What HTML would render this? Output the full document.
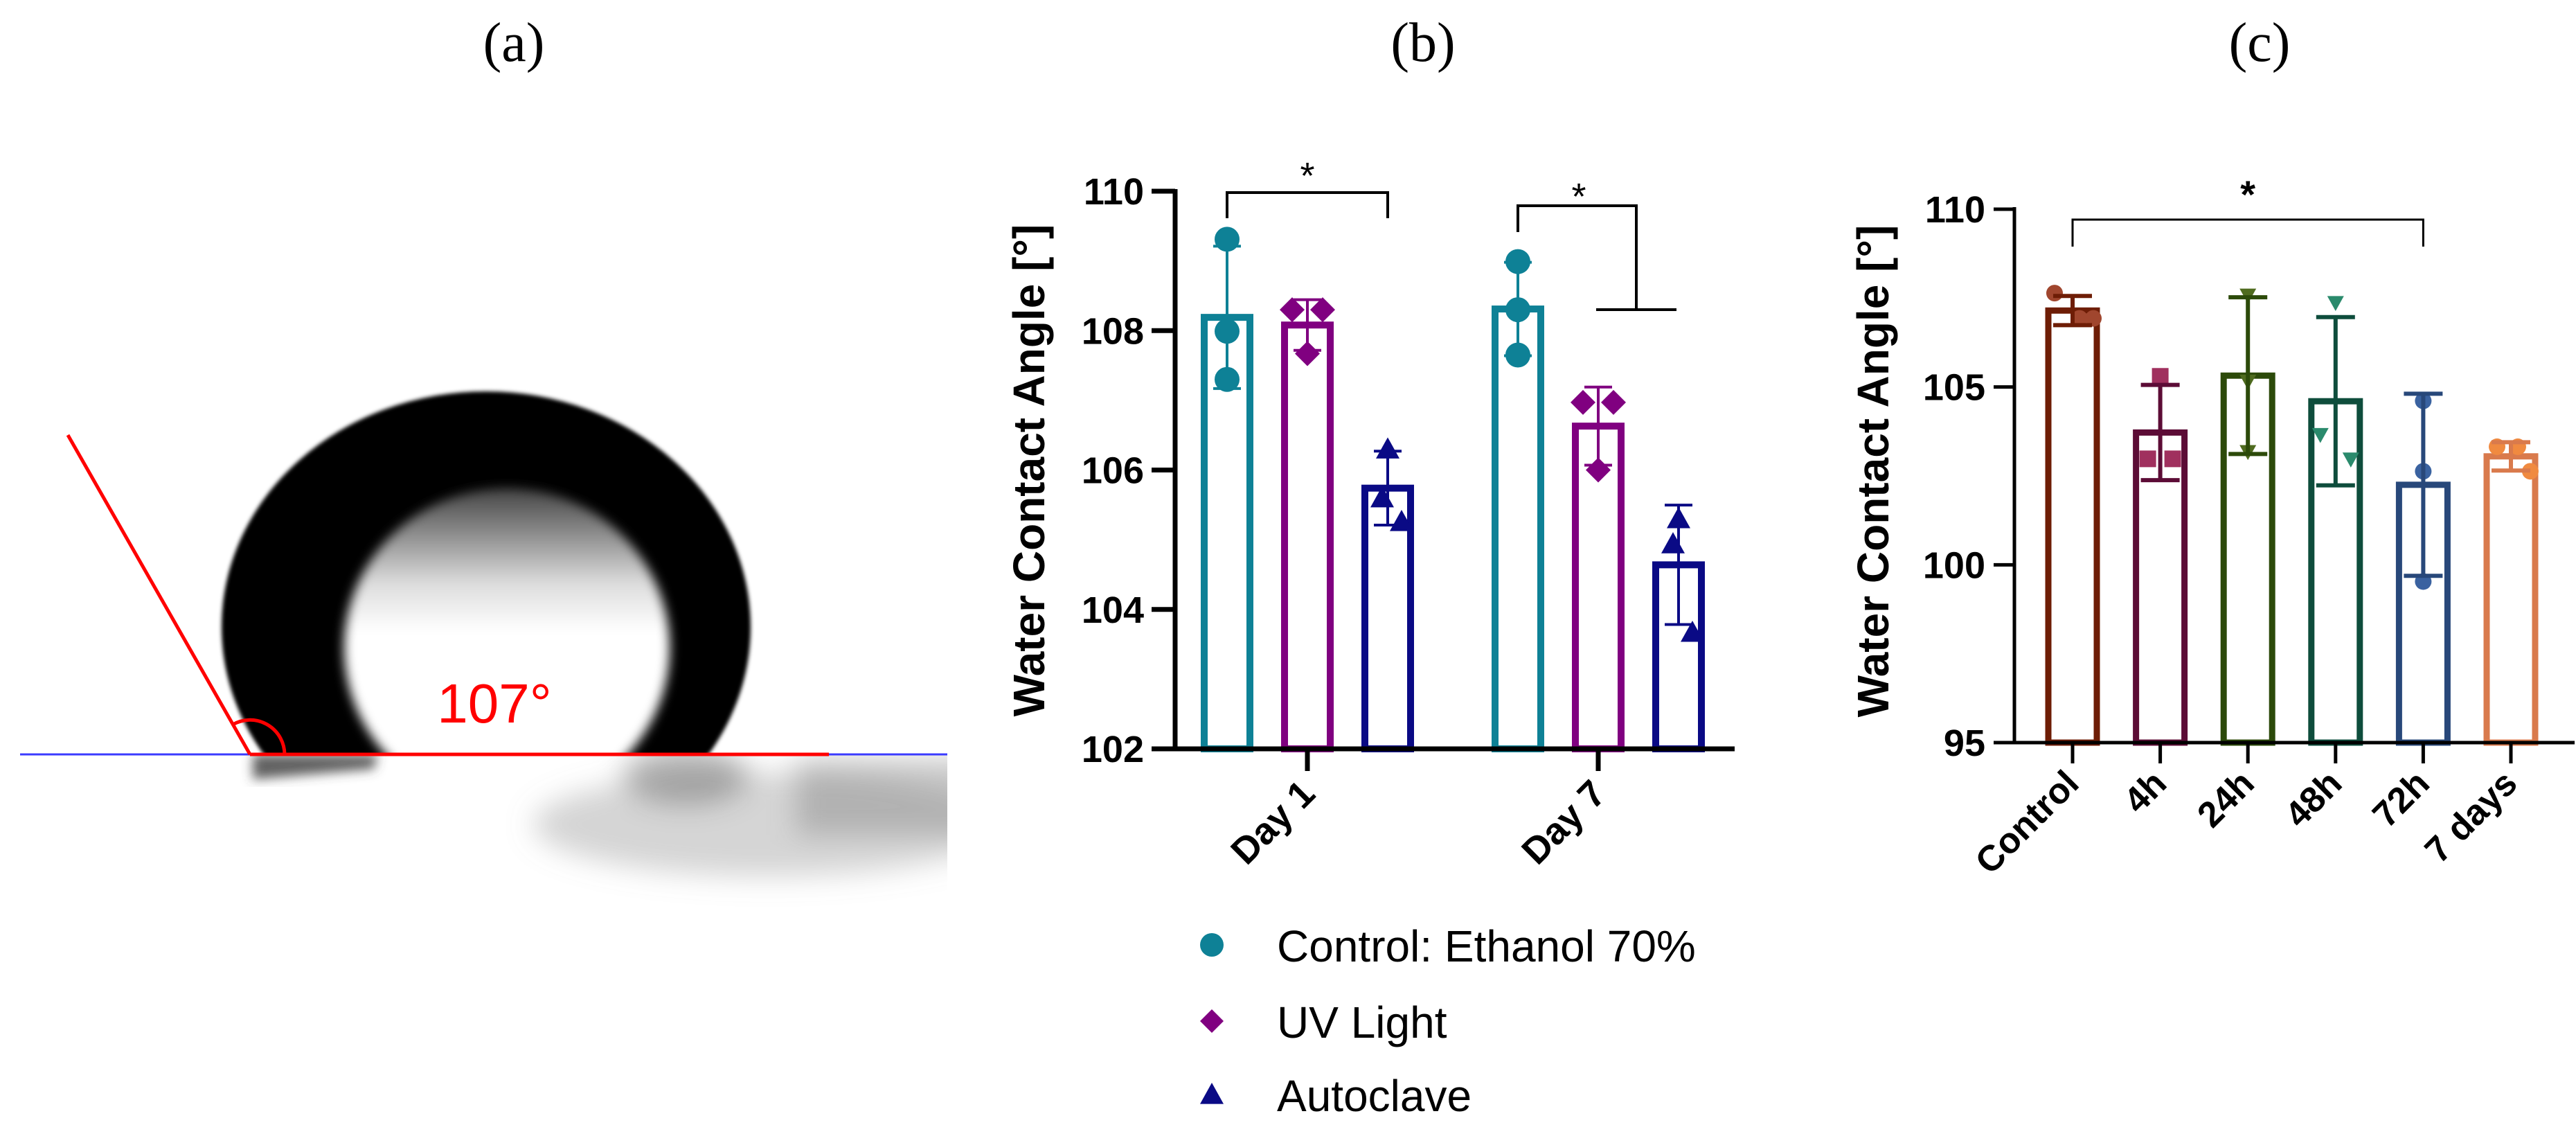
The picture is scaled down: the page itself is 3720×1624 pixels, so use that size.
<!DOCTYPE html>
<html><head><meta charset="utf-8"><style>
html,body{margin:0;padding:0;background:#fff;}
svg{display:block;}
text{font-family:"Liberation Sans",Arial,sans-serif;}
</style></head><body>
<svg id="fig" width="3720" height="1624" viewBox="0 0 3720 1624" xmlns="http://www.w3.org/2000/svg">
<defs>
<filter id="blur3" x="-20%" y="-20%" width="140%" height="140%"><feGaussianBlur stdDeviation="3"/></filter>
<filter id="blur20" x="-30%" y="-50%" width="160%" height="200%"><feGaussianBlur stdDeviation="20"/></filter>
<filter id="blur8" x="-30%" y="-30%" width="160%" height="160%"><feGaussianBlur stdDeviation="8"/></filter>
<clipPath id="aboveBase"><rect x="0" y="0" width="1400" height="1089"/></clipPath>
<clipPath id="imgArea"><rect x="0" y="1089" width="1368" height="300"/></clipPath>
<linearGradient id="holeGrad" x1="0" y1="0" x2="0" y2="1">
<stop offset="0" stop-color="#444"/><stop offset="0.3" stop-color="#ddd"/><stop offset="0.45" stop-color="#fff"/><stop offset="1" stop-color="#fff"/></linearGradient>
</defs>

<!-- Panel a -->
<g>
<text x="742" y="88" font-size="80" text-anchor="middle" style="font-family:'Liberation Serif',serif">(a)</text>
<g>
<g clip-path="url(#imgArea)">
<g filter="url(#blur20)">
<ellipse cx="1110" cy="1190" rx="340" ry="75" fill="#888" opacity="0.35"/>
<ellipse cx="990" cy="1120" rx="90" ry="40" fill="#666" opacity="0.5"/>
<rect x="1150" y="1095" width="260" height="110" fill="#888" opacity="0.45"/>
</g>
<g filter="url(#blur8)"><path d="M365 1089 H545 L540 1110 L365 1125 Z" fill="#444" opacity="0.85"/></g>
</g>
<g clip-path="url(#aboveBase)">
<ellipse cx="702" cy="905" rx="382" ry="340" fill="#050505" filter="url(#blur3)"/>
<ellipse cx="732" cy="935" rx="235" ry="230" fill="url(#holeGrad)" filter="url(#blur8)"/>
</g>
</g>
<line x1="29" y1="1089" x2="1368" y2="1089" stroke="#3b3bff" stroke-width="3"/>
<line x1="361" y1="1089" x2="1197" y2="1089" stroke="#ff0000" stroke-width="5"/>
<line x1="361" y1="1089" x2="98" y2="628" stroke="#ff0000" stroke-width="5"/>
<path d="M411 1089 A50 50 0 0 0 336 1046" fill="none" stroke="#ff0000" stroke-width="5"/>
<text x="714" y="1043" font-size="80" fill="#ff0000" text-anchor="middle">107°</text>
</g>

<g id="panelB"></g>
<g id="panelC"></g>
</svg>

<script>
// ---------- Panel b data ----------
const bGroups = ["Day 1", "Day 7"];
const bSeries = ["Control: Ethanol 70%", "UV Light", "Autoclave"];
const bMeans = [[108.19, 108.08, 105.74], [108.31, 106.63, 104.64]];
const bPoints = [
  [[109.31, 107.99, 107.30], [108.30, 108.30, 107.67], [106.30, 105.60, 105.26]],
  [[108.99, 108.30, 107.65], [106.97, 106.97, 106.00], [105.30, 104.94, 103.67]]
];
const bTicks = [102, 104, 106, 108, 110];

// ---------- Panel c data ----------
const cCategories = ["Control", "4h", "24h", "48h", "72h", "7 days"];
const cMeans = [107.15, 103.72, 105.32, 104.60, 102.25, 103.05];
const cPoints = [
  [107.64, 106.93, 106.93],
  [105.30, 102.98, 102.98],
  [107.58, 105.16, 103.18],
  [107.37, 103.66, 102.97],
  [104.61, 102.63, 99.53],
  [103.32, 103.32, 102.63]
];
const cTicks = [95, 100, 105, 110];

const NS = "http://www.w3.org/2000/svg";
function mk(parent, tag, attrs, txt) {
  const e = document.createElementNS(NS, tag);
  for (const k in attrs) e.setAttribute(k, attrs[k]);
  if (txt !== undefined) e.textContent = txt;
  parent.appendChild(e);
  return e;
}
function sd(a) {
  const m = a.reduce((s, v) => s + v, 0) / a.length;
  return Math.sqrt(a.reduce((s, v) => s + (v - m) * (v - m), 0) / (a.length - 1));
}
function marker(g, shape, x, y, s, color) {
  let e;
  if (shape === "circle") e = mk(g, "circle", {cx: x, cy: y, r: s, fill: color});
  else if (shape === "diamond") e = mk(g, "path", {d: `M${x} ${y - s}L${x + s} ${y}L${x} ${y + s}L${x - s} ${y}Z`, fill: color});
  else if (shape === "square") e = mk(g, "rect", {x: x - s, y: y - s, width: 2 * s, height: 2 * s, fill: color});
  else if (shape === "triangle") e = mk(g, "path", {d: `M${x} ${y - s}L${x + s} ${y + s * 0.8}L${x - s} ${y + s * 0.8}Z`, fill: color});
  else if (shape === "tridown") e = mk(g, "path", {d: `M${x} ${y + s}L${x + s} ${y - s * 0.8}L${x - s} ${y - s * 0.8}Z`, fill: color});
  return e;
}

// ---------- Draw panel b ----------
(function () {
  const g = document.getElementById("panelB");
  const x0 = 1697, x1 = 2505, yTop = 276, yBot = 1081, vMin = 102, vMax = 110;
  const y = v => yBot - (v - vMin) / (vMax - vMin) * (yBot - yTop);
  const groupX = i => 1888 + i * 420;
  const barX = (i, j) => groupX(i) + (j - 1) * 116;
  const colors = ["#0e8196", "#800080", "#0a0a85"];
  const shapes = ["circle", "diamond", "triangle"];
  const msize = [18, 18, 17];
  const jitter = [[0, 0, 0], [-22, 22, 0], [0, -8, 20]];
  const barW = 66;

  let t = mk(g, "text", {x: 2055, y: 88, "font-size": 80, "text-anchor": "middle", style: "font-family:'Liberation Serif',serif"}, "(b)");
  
  

  bMeans.forEach((row, i) => row.forEach((m, j) => {
    const cx = barX(i, j);
    const r = mk(g, "rect", {x: cx - barW / 2, y: y(m), width: barW, height: yBot - y(m), fill: "none", stroke: colors[j], "stroke-width": 10});
    
    
    const s = sd(bPoints[i][j]);
    const eb = mk(g, "path", {d: `M${cx} ${y(m - s)}V${y(m + s)}M${cx - 20} ${y(m + s)}H${cx + 20}M${cx - 20} ${y(m - s)}H${cx + 20}`, stroke: colors[j], "stroke-width": 4, fill: "none"});
    
    
    bPoints[i][j].forEach((v, k) => {
      const p = marker(g, shapes[j], cx + jitter[j][k], y(v), msize[j], colors[j]);
      
      
    });
  }));

  const ax = mk(g, "path", {d: `M${x0} ${yTop - 3}V${yBot}H${x1}`, stroke: "#000", "stroke-width": 7, fill: "none"});
  
  
  bTicks.forEach(v => {
    const tk = mk(g, "line", {x1: x0 - 34, x2: x0, y1: y(v), y2: y(v), stroke: "#000", "stroke-width": 7});
    
    
    const tl = mk(g, "text", {x: x0 - 45, y: y(v) + 19, "font-size": 54, "font-weight": "bold", "text-anchor": "end"}, String(v));
    
    
  });
  bGroups.forEach((name, i) => {
    const gx = groupX(i);
    const tk = mk(g, "line", {x1: gx, x2: gx, y1: yBot, y2: yBot + 32, stroke: "#000", "stroke-width": 7});
    
    
    const tl = mk(g, "text", {x: gx + 14, y: yBot + 68, "font-size": 54, "font-weight": "bold", "text-anchor": "end", transform: `rotate(-45 ${gx + 14} ${yBot + 68})`}, name);
    
    
  });
  const yt = mk(g, "text", {x: 0, y: 0, "font-size": 64, "font-weight": "bold", "text-anchor": "middle", transform: "translate(1508 679) rotate(-90)"}, "Water Contact Angle [°]");
  
  

  const br1 = mk(g, "path", {d: `M${barX(0,0)} 315V278H${barX(0,2)}V315`, stroke: "#000", "stroke-width": 4, fill: "none"});
  
  
  const s1 = mk(g, "text", {x: (barX(0,0) + barX(0,2)) / 2, y: 272, "font-size": 54, "text-anchor": "middle"}, "*");
  
  
  const br2 = mk(g, "path", {d: `M${barX(1,0)} 335V297H2363V447M2305 447H2421`, stroke: "#000", "stroke-width": 4, fill: "none"});
  
  
  const s2 = mk(g, "text", {x: 2280, y: 302, "font-size": 54, "text-anchor": "middle"}, "*");
  
  

  const ly = [1366, 1476, 1582];
  bSeries.forEach((name, j) => {
    const lg = mk(g, "g", {});
    
    
    marker(lg, shapes[j], 1750, ly[j] - 2, 17, colors[j]);
    mk(lg, "text", {x: 1844, y: ly[j] + 22, "font-size": 64}, name);
  });
})();

// ---------- Draw panel c ----------
(function () {
  const g = document.getElementById("panelC");
  const x0 = 2909, x1 = 3718, yTop = 302, yBot = 1072, vMin = 95, vMax = 110;
  const y = v => yBot - (v - vMin) / (vMax - vMin) * (yBot - yTop);
  const cx = i => 2993 + i * 126.6;
  const colors = ["#6e1d06", "#5c0c36", "#2c4a0a", "#0e4d3c", "#28487a", "#d97a4c"];
  const pcolors = ["#a0462e", "#a0305e", "#4f6b1f", "#2a8a6c", "#3a62a0", "#f08a40"];
  const shapes = ["circle", "square", "tridown", "tridown", "circle", "circle"];
  const jitter = [[-26, 10, 30], [0, -18, 18], [0, 0, 0], [0, -22, 22], [0, 0, 0], [-20, 10, 28]];
  const barW = 70;

  let t = mk(g, "text", {x: 3263, y: 88, "font-size": 80, "text-anchor": "middle", style: "font-family:'Liberation Serif',serif"}, "(c)");
  
  

  cMeans.forEach((m, i) => {
    const x = cx(i);
    const r = mk(g, "rect", {x: x - barW / 2, y: y(m), width: barW, height: yBot - y(m), fill: "none", stroke: colors[i], "stroke-width": 9});
    
    
    cPoints[i].forEach((v, k) => {
      const p = marker(g, shapes[i], x + jitter[i][k], y(v), 12, pcolors[i]);
      
      
    });
    const s = sd(cPoints[i]);
    const eb = mk(g, "path", {d: `M${x} ${y(m - s)}V${y(m + s)}M${x - 28} ${y(m + s)}H${x + 28}M${x - 28} ${y(m - s)}H${x + 28}`, stroke: colors[i], "stroke-width": 6, fill: "none"});
    
    
  });

  const ax = mk(g, "path", {d: `M${x0} ${yTop - 3}V${yBot}H${x1}`, stroke: "#000", "stroke-width": 5, fill: "none"});
  
  
  cTicks.forEach(v => {
    const tk = mk(g, "line", {x1: x0 - 30, x2: x0, y1: y(v), y2: y(v), stroke: "#000", "stroke-width": 5});
    
    
    const tl = mk(g, "text", {x: x0 - 42, y: y(v) + 19, "font-size": 54, "font-weight": "bold", "text-anchor": "end"}, String(v));
    
    
  });
  cCategories.forEach((name, i) => {
    const x = cx(i);
    const tk = mk(g, "line", {x1: x, x2: x, y1: yBot, y2: yBot + 30, stroke: "#000", "stroke-width": 5});
    
    
    const tl = mk(g, "text", {x: x + 12, y: yBot + 62, "font-size": 52, "font-weight": "bold", "text-anchor": "end", transform: `rotate(-45 ${x + 12} ${yBot + 62})`}, name);
    
    
  });
  const yt = mk(g, "text", {x: 0, y: 0, "font-size": 64, "font-weight": "bold", "text-anchor": "middle", transform: "translate(2727 680) rotate(-90)"}, "Water Contact Angle [°]");
  
  

  const br = mk(g, "path", {d: `M${cx(0)} 356V317H${cx(4)}V356`, stroke: "#000", "stroke-width": 3, fill: "none"});
  
  
  const st = mk(g, "text", {x: (cx(0) + cx(4)) / 2, y: 300, "font-size": 56, "font-weight": "bold", "text-anchor": "middle"}, "*");
  
  
})();
</script>
</body></html>
